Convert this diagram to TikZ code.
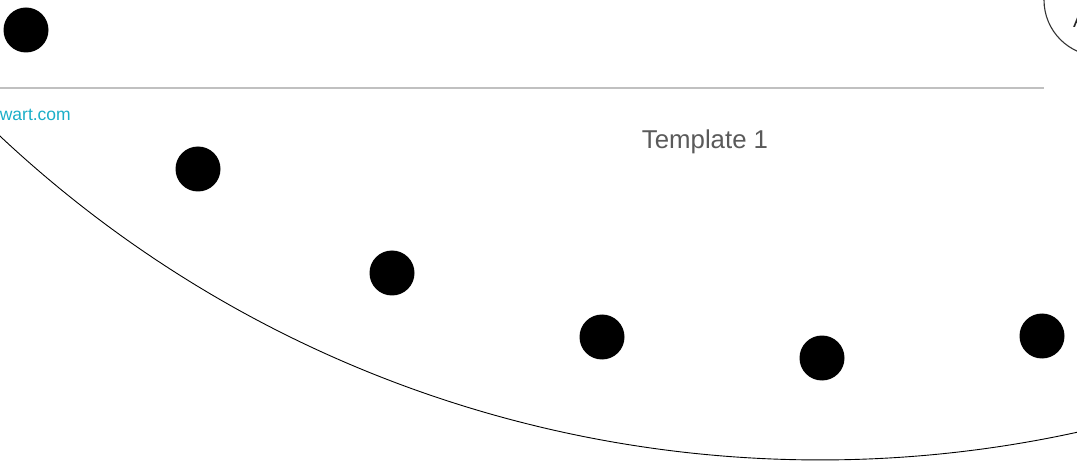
\documentclass[tikz,border=0pt]{standalone}
\usepackage{fontspec}
\setmainfont{Liberation Sans}
\definecolor{linkcyan}{HTML}{1AAEC8}
\definecolor{titlegrey}{HTML}{5A5A5A}
\definecolor{rulegrey}{HTML}{C0C0C0}
\tikzset{
  dot/.style={circle,fill=black,minimum size=45pt,inner sep=0pt},
  curveline/.style={line width=0.9pt,black},
}
\begin{document}
\begin{tikzpicture}[x=1pt,y=-1pt]
\useasboundingbox (0,0) rectangle (1077,465);
% header rule
\coordinate (ruleL) at (0,88);
\coordinate (ruleR) at (1044,88);
\draw[rulegrey,line width=2.4pt] (ruleL) -- (ruleR);
% top-right circle badge
\draw[line width=1.1pt,black!80] (1100,0) circle[radius=56];
\node[anchor=base west,inner sep=0pt,font=\fontsize{20}{24}\selectfont,black!85] (badge) at (1073,28) {A};
% link text
\node[anchor=base east,inner sep=0pt,font=\fontsize{17.5}{20}\selectfont,text=linkcyan] (link) at (71,121) {wart.com};
% title
\node[anchor=base,inner sep=0pt,font=\fontsize{25.8}{30}\selectfont,text=titlegrey] (title) at (705,149) {Template 1};
% arc curve
\coordinate (arcC) at (820,-740);
\draw[curveline] (arcC) ++(136.4:1200) arc[start angle=136.4,end angle=12.3,radius=1200];
% dots
\node[dot] (d0) at (26,30) {};
\node[dot] (d1) at (198,169) {};
\node[dot] (d2) at (392,273) {};
\node[dot] (d3) at (602,337) {};
\node[dot] (d4) at (822,358) {};
\node[dot] (d5) at (1042,336) {};
\end{tikzpicture}
\end{document}
